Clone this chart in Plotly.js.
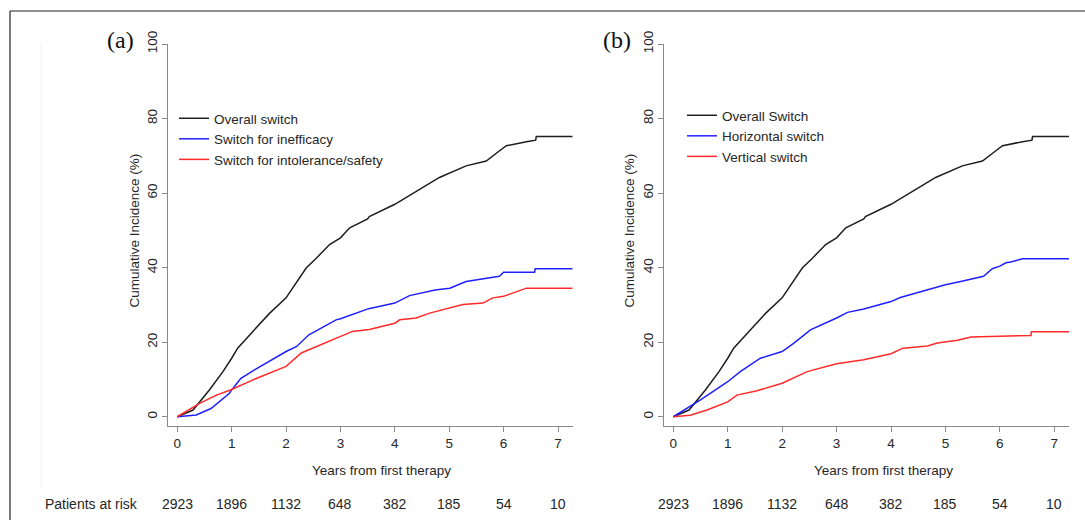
<!DOCTYPE html>
<html>
<head>
<meta charset="utf-8">
<script src="https://cdn.plot.ly/plotly-3.0.1.min.js"></script>
<style>
html,body{margin:0;padding:0;background:#fff;}
#chart{width:1085px;height:520px;}
</style>
</head>
<body>
<div id="chart"></div>
<script>
// ---- data ----
const overallX = [0, 0.29, 0.59, 0.84, 1.0, 1.11, 1.39, 1.70, 2.0, 2.19, 2.37, 2.56, 2.80, 3.0, 3.17, 3.50, 3.53, 4.0, 4.15, 4.30, 4.82, 5.31, 5.68, 5.92, 6.05, 6.42, 6.59, 6.60, 7.27];
const overallY = [0, 1.8, 7.2, 12.1, 15.7, 18.4, 22.9, 27.8, 31.9, 35.9, 39.9, 42.6, 46.2, 48.0, 50.7, 53.1, 53.7, 57.0, 58.3, 59.7, 64.2, 67.3, 68.6, 71.3, 72.7, 73.8, 74.2, 75.2, 75.2];

const ineffX = [0, 0.35, 0.62, 0.96, 1.0, 1.17, 1.42, 2.0, 2.19, 2.42, 2.92, 3.0, 3.52, 4.0, 4.27, 4.74, 5.01, 5.31, 5.92, 6.0, 6.57, 6.58, 7.27];
const ineffY = [0, 0.5, 2.2, 6.3, 7.2, 10.3, 12.6, 17.5, 18.8, 22.0, 26.0, 26.3, 29.0, 30.5, 32.5, 34.0, 34.5, 36.3, 37.7, 38.8, 38.8, 39.7, 39.7];

const intolX = [0, 0.41, 0.72, 1.0, 1.39, 1.72, 2.0, 2.28, 2.65, 3.0, 3.22, 3.53, 4.0, 4.09, 4.39, 4.64, 5.0, 5.25, 5.62, 5.80, 6.0, 6.23, 6.42, 7.27];
const intolY = [0, 3.6, 5.8, 7.3, 9.9, 11.8, 13.5, 17.1, 19.3, 21.5, 22.9, 23.4, 25.1, 26.0, 26.5, 27.8, 29.2, 30.1, 30.5, 31.9, 32.3, 33.4, 34.5, 34.5];

const horizX = [0, 0.5, 1.0, 1.23, 1.6, 2.0, 2.21, 2.52, 3.0, 3.2, 3.5, 4.0, 4.17, 4.67, 5.0, 5.28, 5.70, 5.86, 6.0, 6.11, 6.2, 6.42, 7.27];
const horizY = [0, 4.5, 9.4, 12.1, 15.7, 17.5, 19.7, 23.3, 26.5, 28.0, 28.9, 30.9, 32.0, 34.1, 35.4, 36.3, 37.7, 39.7, 40.4, 41.3, 41.5, 42.4, 42.4];

const vertX = [0, 0.31, 0.62, 1.0, 1.17, 1.54, 2.0, 2.46, 3.0, 3.5, 4.0, 4.22, 4.67, 4.85, 5.22, 5.47, 6.0, 6.57, 6.58, 7.27];
const vertY = [0, 0.4, 1.8, 4.0, 5.8, 7.0, 9.0, 12.1, 14.2, 15.3, 16.9, 18.4, 19.0, 19.8, 20.5, 21.4, 21.6, 21.8, 22.8, 22.8];

const riskYears = [0, 1, 2, 3, 4, 5, 6, 7];
const patientsAtRisk = [2923, 1896, 1132, 648, 382, 185, 54, 10];

const namesA = ["Overall switch", "Switch for inefficacy", "Switch for intolerance/safety"];
const namesB = ["Overall Switch", "Horizontal switch", "Vertical switch"];
const yTicks = [0, 20, 40, 60, 80, 100];
const xTicks = [0, 1, 2, 3, 4, 5, 6, 7];

// ---- styling ----
const W = 1085, H = 520;
const px = v => v / W, py = v => 1 - v / H;
const BLACK = "#1e1e1e", BLUE = "#2020ff", RED = "#ff2a2a";
const FONT = "Liberation Sans, Arial, sans-serif";
const TXT = "#262626";

function tr(x, y, name, color, xa, ya, leg) {
  return {x: x, y: y, name: name, type: "scatter", mode: "lines",
    line: {color: color, width: 1.5}, xaxis: xa, yaxis: ya, legend: leg};
}

const data = [
  tr(overallX, overallY, namesA[0], BLACK, "x", "y", "legend"),
  tr(ineffX, ineffY, namesA[1], BLUE, "x", "y", "legend"),
  tr(intolX, intolY, namesA[2], RED, "x", "y", "legend"),
  tr(overallX, overallY, namesB[0], BLACK, "x2", "y2", "legend2"),
  tr(horizX, horizY, namesB[1], BLUE, "x2", "y2", "legend2"),
  tr(vertX, vertY, namesB[2], RED, "x2", "y2", "legend2")
];

function xax(dom) {
  return {domain: dom, range: [-0.165, 7.27], tickvals: xTicks, showgrid: false, zeroline: false,
    showline: true, linecolor: "#8a8a8a", linewidth: 1, ticks: "outside", ticklen: 5,
    tickcolor: "#8a8a8a", tickfont: {family: FONT, size: 13.5, color: TXT}, fixedrange: true};
}
function yax(anchor) {
  return {domain: [py(425.7), py(44)], range: [-2.4, 100], tickvals: yTicks, showgrid: false,
    zeroline: false, showline: true, linecolor: "#8a8a8a", linewidth: 1, ticks: "outside",
    ticklen: 5, tickcolor: "#8a8a8a", tickangle: -90, anchor: anchor,
    tickfont: {family: FONT, size: 13.5, color: TXT}, fixedrange: true};
}

const annotations = [];
function ann(text, x, y, opts) {
  annotations.push(Object.assign({text: text, x: x, y: y, xref: "paper", yref: "paper",
    showarrow: false, xanchor: "center", yanchor: "middle",
    font: {family: FONT, size: 13.5, color: TXT}}, opts || {}));
}
ann("(a)", px(120), py(40), {font: {family: "Liberation Serif, Times New Roman, serif", size: 24, color: "#111"}});
ann("(b)", px(617), py(40), {font: {family: "Liberation Serif, Times New Roman, serif", size: 24, color: "#111"}});
ann("Cumulative Incidence (%)", px(133.5), py(231), {textangle: -90});
ann("Cumulative Incidence (%)", px(628.5), py(231), {textangle: -90});
ann("Years from first therapy", px(381.5), py(470));
ann("Years from first therapy", px(883.7), py(470));
ann("Patients at risk", px(43), py(504), {xanchor: "left", font: {family: FONT, size: 14, color: TXT}});
riskYears.forEach((yr, i) => {
  ["x", "x2"].forEach(xr => {
    annotations.push({text: String(patientsAtRisk[i]), x: yr, y: py(504), xref: xr, yref: "paper",
      showarrow: false, xanchor: "center", yanchor: "middle",
      font: {family: FONT, size: 14, color: TXT}});
  });
});

const shapes = [
  {type: "line", xref: "paper", yref: "paper", x0: px(10), x1: 1, y0: py(11), y1: py(11), line: {color: "#222", width: 1.2}},
  {type: "line", xref: "paper", yref: "paper", x0: px(10), x1: px(10), y0: py(11), y1: 0, line: {color: "#222", width: 1.2}},
  {type: "line", xref: "paper", yref: "paper", x0: px(41), x1: px(41), y0: py(43), y1: py(487), line: {color: "#f2f2f2", width: 1}}
];

function legendAt(left, top) {
  return {x: px(left), y: py(top), xanchor: "left", yanchor: "top", bgcolor: "rgba(0,0,0,0)",
    borderwidth: 0, font: {family: FONT, size: 13.5, color: TXT}, tracegroupgap: 0,
    itemclick: false, itemdoubleclick: false};
}

const layout = {
  width: W, height: H, margin: {l: 0, r: 0, t: 0, b: 0},
  paper_bgcolor: "#fff", plot_bgcolor: "#fff",
  showlegend: true,
  xaxis: Object.assign(xax([px(168.3), px(572.7)]), {anchor: "y"}),
  yaxis: yax("x"),
  xaxis2: Object.assign(xax([px(664.3), px(1069)]), {anchor: "y2"}),
  yaxis2: yax("x2"),
  legend: legendAt(174, 103),
  legend2: legendAt(682, 100),
  annotations: annotations,
  shapes: shapes
};

Plotly.newPlot("chart", data, layout, {displayModeBar: false, staticPlot: true});
</script>
</body>
</html>
